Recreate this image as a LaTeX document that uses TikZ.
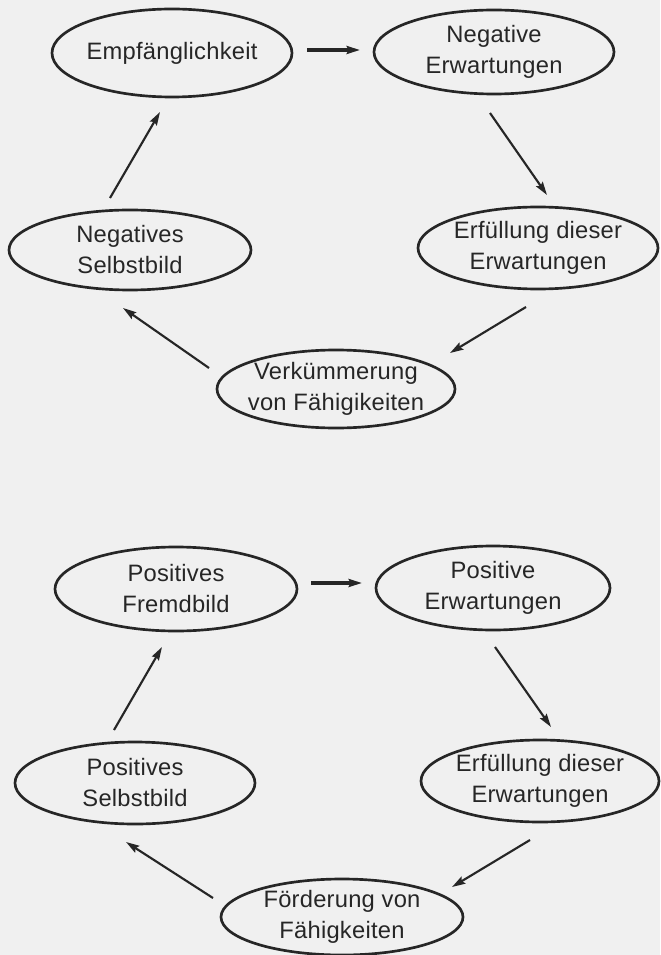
\documentclass[tikz,border=0pt]{standalone}
\usepackage{fontspec}
\setmainfont{Liberation Sans}[LetterSpace=1]
\usetikzlibrary{shapes.geometric,arrows.meta}
\definecolor{ink}{HTML}{262626}
\definecolor{paper}{HTML}{F0F0F0}
\tikzset{
  oval/.style 2 args={ellipse, draw=ink, line width=2pt, inner sep=0pt,
    minimum width=#1*0.75pt, minimum height=#2*0.75pt},
  lbl/.style={align=center, text=ink, inner sep=0pt,
    font=\fontsize{17.8}{23.25}\selectfont},
  arr/.style={draw=ink, line width=1.6pt,
    -{Stealth[length=10pt,width=6pt,inset=1.5pt]}},
  harr/.style={arr, line width=2.4pt}
}
\begin{document}
\begin{tikzpicture}[x=0.75pt,y=-0.75pt]
\fill[paper] (0,0) rectangle (660,955);
\useasboundingbox (0,0) rectangle (660,955);

% ellipses
\node[oval={240}{88}] (e1) at (172,53) {};
\node[oval={240}{84}] (e2) at (494,52) {};
\node[oval={242}{80}] (e3) at (130,250) {};
\node[oval={240}{82}] (e4) at (538,248) {};
\node[oval={238}{78}] (e5) at (336,389) {};
\node[oval={242}{84}] (e6) at (176,589) {};
\node[oval={234}{84}] (e7) at (493,588) {};
\node[oval={240}{82}] (e8) at (135,783) {};
\node[oval={238}{82}] (e9) at (540,781) {};
\node[oval={242}{76}] (e10) at (342,917) {};

% texts
\node[lbl] (t1) at (e1) {Empfänglichkeit};
\node[lbl] (t2) at (e2) {Negative\\Erwartungen};
\node[lbl] (t3) at (e3) {Negatives\\Selbstbild};
\node[lbl] (t4) at (e4) {Erfüllung dieser\\Erwartungen};
\node[lbl] (t5) at (e5) {Verkümmerung\\von Fähigikeiten};
\node[lbl] (t6) at (e6) {Positives\\Fremdbild};
\node[lbl] (t7) at (e7) {Positive\\Erwartungen};
\node[lbl] (t8) at (e8) {Positives\\Selbstbild};
\node[lbl] (t9) at (e9) {Erfüllung dieser\\Erwartungen};
\node[lbl] (t10) at (e10) {Förderung von\\Fähigkeiten};

% arrow end points
\coordinate (a1s) at (307,50);  \coordinate (a1e) at (360,50);
\coordinate (a2s) at (490,113); \coordinate (a2e) at (547,195);
\coordinate (a3s) at (110,198); \coordinate (a3e) at (160,112);
\coordinate (a4s) at (526,307); \coordinate (a4e) at (450,353);
\coordinate (a5s) at (209,368); \coordinate (a5e) at (123,308);
\coordinate (a6s) at (311,583); \coordinate (a6e) at (362,583);
\coordinate (a7s) at (114,730); \coordinate (a7e) at (162,647);
\coordinate (a8s) at (495,647); \coordinate (a8e) at (551,727);
\coordinate (a9s) at (530,840); \coordinate (a9e) at (452,887);
\coordinate (a10s) at (213,898); \coordinate (a10e) at (126,842);

% arrows
\draw[harr] (a1s) -- (a1e);
\draw[arr] (a2s) -- (a2e);
\draw[arr] (a3s) -- (a3e);
\draw[arr] (a4s) -- (a4e);
\draw[arr] (a5s) -- (a5e);
\draw[harr] (a6s) -- (a6e);
\draw[arr] (a7s) -- (a7e);
\draw[arr] (a8s) -- (a8e);
\draw[arr] (a9s) -- (a9e);
\draw[arr] (a10s) -- (a10e);
\end{tikzpicture}
\end{document}
